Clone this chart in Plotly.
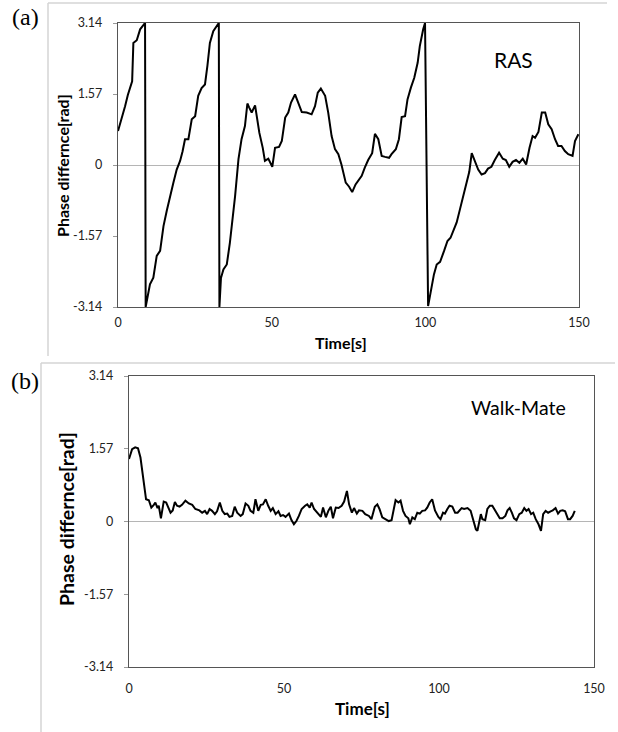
import plotly.graph_objects as go

# ---------------- data ----------------
ras_t = [0, 1.2, 2.3, 3.2, 4.1, 4.6, 5.0, 6.1, 7.2, 8.2, 8.8, 9.0, 10.4, 11.5, 12.6, 13.7,
         14.8, 15.9, 16.9, 18.0, 19.1, 20.2, 21.0, 21.8, 22.9, 24.0, 25.1, 26.1, 27.2, 28.3,
         29.1, 29.9, 31.0, 32.3, 32.8, 33.0, 33.5, 34.3, 35.4, 36.4, 37.3, 38.1, 39.2, 40.2,
         41.3, 42.1, 42.7, 43.5, 44.6, 45.3, 46.0, 47.1, 47.8, 48.9, 50.2, 51.1, 52.4, 53.3,
         54.4, 55.4, 56.3, 57.6, 58.7, 59.8, 61.4, 63.0, 64.1, 65.0, 66.0, 67.4, 68.4, 69.5,
         70.6, 71.7, 72.7, 74.1, 75.2, 76.2, 77.3, 79.3, 80.3, 81.4, 82.7, 83.6, 84.7, 85.8,
         86.9, 88.2, 89.0, 90.4, 91.4, 92.3, 93.4, 94.2, 95.3, 96.4, 97.5, 98.2, 99.3, 99.9,
         100.9, 102.1, 102.8, 103.7, 104.8, 106.1, 107.2, 108.2, 109.1, 110.2, 111.3, 112.4,
         113.5, 114.3, 115.1, 116.2, 117.2, 118.3, 119.4, 120.4, 121.5, 122.6, 124.0, 125.2,
         126.2, 127.3, 128.4, 129.5, 130.6, 131.7, 132.8, 133.9, 134.9, 135.7, 136.8, 137.9,
         139.0, 140.0, 141.1, 142.2, 143.2, 144.3, 145.4, 146.5, 147.9, 148.7, 149.8]
ras_phase = [0.75, 1.02, 1.30, 1.55, 1.75, 1.85, 2.70, 2.76, 3.00, 3.09, 3.14, -3.14, -2.64,
             -2.49, -2.01, -1.90, -1.35, -1.00, -0.69, -0.40, -0.10, 0.09, 0.30, 0.57, 0.57,
             1.01, 1.08, 1.53, 1.70, 1.78, 2.20, 2.70, 2.96, 3.09, 3.14, -3.14, -2.50, -2.31,
             -2.20, -1.72, -1.20, -0.69, 0.13, 0.57, 0.86, 1.36, 1.27, 1.16, 1.32, 1.00, 0.71,
             0.38, 0.09, 0.14, -0.04, 0.38, 0.40, 0.53, 1.05, 1.16, 1.38, 1.56, 1.36, 1.17,
             1.16, 1.12, 1.30, 1.60, 1.69, 1.53, 1.16, 0.64, 0.35, 0.24, 0.01, -0.39, -0.48,
             -0.60, -0.43, -0.24, -0.06, 0.11, 0.26, 0.69, 0.57, 0.20, 0.18, 0.16, 0.24, 0.35,
             0.57, 1.06, 1.08, 1.45, 1.71, 1.93, 2.26, 2.63, 3.00, 3.14, -3.12, -2.67, -2.42,
             -2.20, -2.14, -1.90, -1.68, -1.61, -1.46, -1.27, -0.97, -0.65, -0.32, -0.15, 0.26,
             0.09, -0.10, -0.21, -0.18, -0.08, -0.04, 0.11, 0.27, 0.14, 0.11, -0.04, 0.07,
             0.11, 0.05, 0.14, 0.01, 0.38, 0.64, 0.60, 0.73, 1.16, 1.16, 0.90, 0.79, 0.57,
             0.42, 0.42, 0.31, 0.24, 0.20, 0.53, 0.68]

wm_t = [0, 1.0, 2.0, 2.9, 3.7, 4.4, 5.1, 5.5, 6.4, 7.2, 8.0, 8.5, 9.2, 9.6, 10.3, 11.2, 12.0,
        12.6, 13.4, 14.1, 14.8, 15.5, 16.3, 17.1, 18.2, 19.3, 20.4, 21.4, 22.7, 23.6, 24.5,
        25.2, 26.0, 26.8, 27.7, 28.4, 29.3, 30.1, 30.9, 31.7, 32.4, 33.3, 34.1, 34.9, 36.0,
        36.7, 37.6, 38.5, 39.2, 40.1, 40.8, 41.7, 42.5, 43.2, 44.1, 44.9, 45.7, 46.4, 47.3,
        48.2, 48.9, 49.7, 50.5, 51.6, 52.4, 53.2, 54.0, 54.8, 55.7, 56.8, 57.5, 58.3, 58.9,
        59.7, 60.8, 61.9, 62.6, 63.5, 64.3, 65.1, 65.8, 66.7, 67.6, 68.6, 69.4, 70.3, 71.0,
        71.9, 72.6, 73.5, 74.2, 75.3, 76.2, 77.4, 78.2, 79.3, 80.1, 80.8, 81.7, 82.8, 83.8,
        84.7, 85.5, 86.0, 86.9, 87.6, 88.4, 89.2, 90.1, 90.6, 91.4, 92.2, 93.0, 93.8, 94.6,
        95.5, 96.2, 97.0, 97.8, 98.7, 99.8, 100.5, 101.3, 101.9, 102.7, 103.4, 104.3, 105.2,
        106.0, 106.7, 107.3, 108.1, 109.2, 110.2, 111.0, 111.9, 112.4, 112.9, 113.5, 114.0,
        114.9, 115.6, 116.4, 117.2, 118.1, 118.9, 119.6, 120.5, 121.4, 122.1, 122.8, 123.5,
        124.2, 125.0, 125.9, 126.7, 127.5, 128.2, 128.9, 129.7, 130.4, 131.2, 132.1, 132.9,
        133.6, 134.4, 135.2, 136.0, 136.7, 137.6, 138.4, 139.1, 139.9, 140.7, 141.6, 142.3,
        143.1, 143.8]
wm_phase = [1.35, 1.56, 1.60, 1.58, 1.38, 1.02, 0.66, 0.48, 0.46, 0.30, 0.36, 0.41, 0.29,
            0.34, 0.07, 0.43, 0.41, 0.30, 0.19, 0.24, 0.42, 0.34, 0.32, 0.36, 0.45, 0.39,
            0.36, 0.27, 0.24, 0.19, 0.23, 0.16, 0.27, 0.23, 0.16, 0.22, 0.41, 0.23, 0.16,
            0.17, 0.10, 0.12, 0.32, 0.19, 0.12, 0.16, 0.39, 0.34, 0.23, 0.19, 0.48, 0.23,
            0.36, 0.37, 0.48, 0.34, 0.23, 0.29, 0.16, 0.22, 0.12, 0.14, 0.10, 0.17, 0.03,
            -0.06, 0.01, 0.12, 0.27, 0.34, 0.37, 0.30, 0.41, 0.27, 0.19, 0.10, 0.30, 0.09,
            0.23, 0.32, 0.07, 0.30, 0.29, 0.34, 0.43, 0.66, 0.37, 0.19, 0.29, 0.17, 0.24,
            0.23, 0.16, 0.12, 0.05, 0.32, 0.37, 0.27, 0.09, 0.05, 0.01, 0.03, 0.30, 0.46,
            0.41, 0.45, 0.23, 0.12, 0.07, -0.06, 0.09, 0.05, 0.19, 0.17, 0.23, 0.24, 0.30,
            0.41, 0.48, 0.24, 0.10, 0.05, 0.19, 0.17, 0.27, 0.34, 0.32, 0.19, 0.19, 0.24,
            0.29, 0.27, 0.29, 0.23, 0.01, -0.17, -0.20, 0.01, 0.16, 0.05, 0.03, 0.27, 0.34,
            0.34, 0.24, 0.12, 0.07, 0.07, 0.12, 0.24, 0.29, 0.19, 0.07, 0.03, 0.16, 0.19,
            0.29, 0.23, 0.27, 0.16, 0.19, 0.05, -0.06, -0.20, 0.16, 0.23, 0.19, 0.22, 0.24,
            0.29, 0.17, 0.23, 0.24, 0.22, 0.05, 0.05, 0.12, 0.23]

y_tickvals = [-3.14, -1.57, 0, 1.57, 3.14]
y_ticktext = ["-3.14", "-1.57", "0", "1.57", "3.14"]
x_tickvals = [0, 50, 100, 150]
x_ticktext = ["0", "50", "100", "150"]

# ---------------- figure ----------------
W, H = 618, 732
def px_x(p):
    return p / W
def px_y(p):
    return 1 - p / H

FONT = "Lato, 'Open Sans', sans-serif"
TICKC = "#222222"

fig = go.Figure()
fig.add_trace(go.Scatter(x=ras_t, y=ras_phase, mode="lines", xaxis="x", yaxis="y",
                         line=dict(color="black", width=2), showlegend=False,
                         hoverinfo="skip"))
fig.add_trace(go.Scatter(x=wm_t, y=wm_phase, mode="lines", xaxis="x2", yaxis="y2",
                         line=dict(color="black", width=2), showlegend=False,
                         hoverinfo="skip"))

def xax(domain, anchor, standoff):
    return dict(domain=domain, anchor=anchor, range=[0, 150], tickvals=x_tickvals,
                ticktext=x_ticktext, showgrid=False, zeroline=False, showline=True,
                linecolor="#555555", linewidth=1.3, mirror=True, ticks="",
                ticklabelstandoff=standoff,
                tickfont=dict(family=FONT, size=12.5, color=TICKC), automargin=False,
                fixedrange=True)

def yax(domain, anchor):
    return dict(domain=domain, anchor=anchor, range=[-3.14, 3.14], tickvals=y_tickvals,
                ticktext=y_ticktext, showgrid=False, zeroline=True,
                zerolinecolor="#b5b5b5", zerolinewidth=1.2, showline=True,
                linecolor="#555555", linewidth=1.3, mirror=True, ticks="outside",
                ticklen=4, tickcolor="#999999", ticklabelstandoff=8,
                tickfont=dict(family=FONT, size=12.5, color=TICKC), automargin=False,
                fixedrange=True)

fig.update_layout(
    width=W, height=H, margin=dict(l=0, r=0, t=0, b=0),
    paper_bgcolor="white", plot_bgcolor="white",
    xaxis=xax([px_x(118), px_x(579)], "y", 4),
    yaxis=yax([px_y(307), px_y(23)], "x"),
    xaxis2=xax([px_x(129), px_x(594)], "y2", 10),
    yaxis2=yax([px_y(667), px_y(376)], "x2"),
)

# outer panel frames (light gray)
frame = dict(color="#d4d4d4", width=1.5)
shapes = [
    dict(type="line", xref="paper", yref="paper", x0=px_x(48), x1=px_x(607),
         y0=px_y(3), y1=px_y(3), line=frame),
    dict(type="line", xref="paper", yref="paper", x0=px_x(48), x1=px_x(48),
         y0=px_y(3), y1=px_y(356), line=frame),
    dict(type="line", xref="paper", yref="paper", x0=px_x(41), x1=px_x(615),
         y0=px_y(363), y1=px_y(363), line=frame),
    dict(type="line", xref="paper", yref="paper", x0=px_x(41), x1=px_x(41),
         y0=px_y(363), y1=px_y(732), line=frame),
]
fig.update_layout(shapes=shapes)

ann = []
def add_text(text, x, y, size, bold=False, family=FONT, angle=0, color="black",
             xanchor="center"):
    ann.append(dict(text=("<b>%s</b>" % text) if bold else text, x=px_x(x), y=px_y(y),
                    xref="paper", yref="paper", showarrow=False, textangle=angle,
                    xanchor=xanchor, yanchor="middle",
                    font=dict(family=family, size=size, color=color)))

add_text("(a)", 25, 17, 24, family="'Liberation Serif', 'DejaVu Serif', serif")
add_text("(b)", 25, 381, 24, family="'Liberation Serif', 'DejaVu Serif', serif")
add_text("RAS", 513, 60, 21)
add_text("Walk-Mate", 518, 408, 19.5)
add_text("Time[s]", 341, 342, 16, bold=True)
add_text("Time[s]", 362, 708, 17, bold=True)
add_text("Phase differnce[rad]", 62, 166, 16, bold=True, angle=-90)
add_text("Phase differnce[rad]", 66, 519, 19.5, bold=True, angle=-90)
fig.update_layout(annotations=ann)

fig.write_html("out.html", post_script="document.body.style.margin='0';",
               config={"displayModeBar": False})
